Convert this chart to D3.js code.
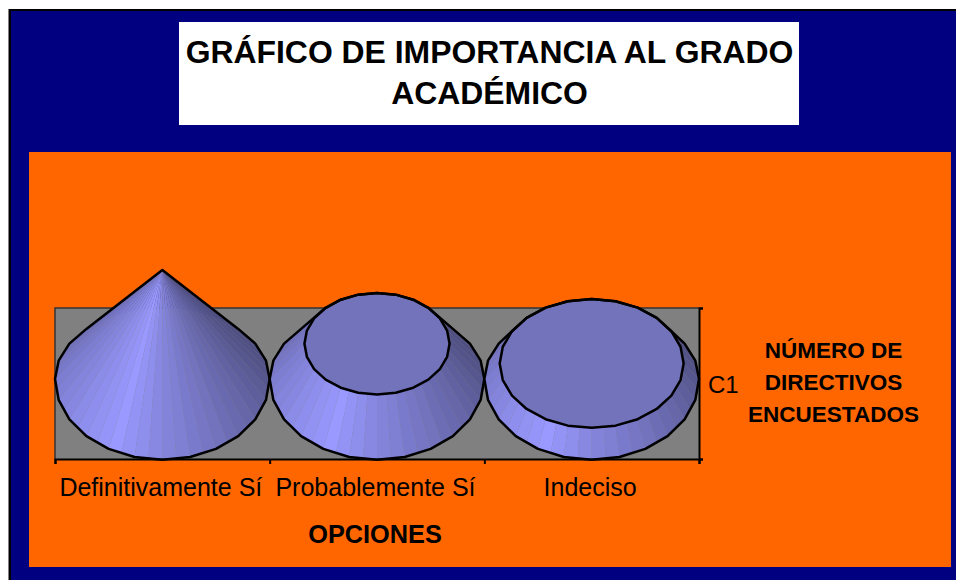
<!DOCTYPE html>
<html>
<head>
<meta charset="utf-8">
<script src="https://cdn.jsdelivr.net/npm/d3@7/dist/d3.min.js"></script>
<style>
html,body{margin:0;padding:0;background:#fff;overflow:hidden}
svg{display:block}
text{font-family:"Liberation Sans",Arial,sans-serif;fill:#000}
</style>
</head>
<body>
<svg id="c" width="956" height="580"></svg>
<script>
const categories = ["Definitivamente Sí", "Probablemente Sí", "Indeciso"];
const values = [21, 6.8, 3];
const yMax = 21;
const seriesName = "C1";
const titleLines = ["GRÁFICO DE IMPORTANCIA AL GRADO", "ACADÉMICO"];
const xTitle = "OPCIONES";
const yTitleLines = ["NÚMERO DE", "DIRECTIVOS", "ENCUESTADOS"];

const svg = d3.select("#c");
const plot = {l: 55, r: 699, t: 308, b: 459};

// Frame
svg.append("rect").attr("x", 8).attr("y", 9).attr("width", 960).attr("height", 580).attr("fill", "#808080");
svg.append("rect").attr("x", 9).attr("y", 9).attr("width", 960).attr("height", 580).attr("fill", "#000");
svg.append("rect").attr("x", 11).attr("y", 11).attr("width", 960).attr("height", 580).attr("fill", "#000080");
svg.append("rect").attr("x", 179).attr("y", 22).attr("width", 620).attr("height", 103).attr("fill", "#fff");
svg.append("rect").attr("x", 29).attr("y", 152).attr("width", 922).attr("height", 415).attr("fill", "#ff6600");

// Title
svg.append("g").selectAll("text").data(titleLines).join("text")
  .attr("x", 489.5).attr("y", (d, i) => 63 + i * 41)
  .attr("text-anchor", "middle").attr("font-size", 31.9).attr("font-weight", "bold").text(d => d);

// Scales
const x = d3.scaleBand().domain(categories).range([plot.l, plot.r]);
const baseY = 379;
const h = d3.scaleLinear().domain([0, yMax]).range([baseY, 270]);   // height of axis of cone
const radius = d3.scaleLinear().domain([0, yMax]).range([1, 0]);    // radius factor along cone

// Wall
svg.append("rect").attr("x", plot.l).attr("y", plot.t)
  .attr("width", plot.r - plot.l).attr("height", plot.b - plot.t).attr("fill", "#808080");
svg.append("path").attr("d", d3.line()([[plot.l, plot.b], [plot.l, plot.t], [plot.r, plot.t]]))
  .attr("fill", "none").attr("stroke", "#333").attr("stroke-width", 1.5);

// Shading by facet angle
const shade = d3.scaleLinear()
  .domain([-90, -30, 0, 45, 90, 116, 180, 215, 270])
  .range(["#4a4a78", "#4c4c7e", "#55558c", "#6b6bb2", "#8585de", "#9999ff", "#7b7bce", "#6a6ab0", "#4a4a78"]);

const N = 48;
const angles = d3.range(N + 1).map(i => -90 + i * 360 / N);
// Perspective: the near half of the base ellipse is deeper than the far half
const pt = (cx, cy, r, deg, far, near) => {
  const s = Math.sin(deg * Math.PI / 180);
  return [cx + r * Math.cos(deg * Math.PI / 180), cy + r * (s < 0 ? far : near) * s];
};
const basePt = (cx, R, a) => pt(cx, baseY, R, a, 0.66, 0.752);
const capPt = (cx, y, r, a) => pt(cx, y, r, a, 0.70, 0.70);
const line = d3.line();

categories.forEach((cat, idx) => {
  const v = values[idx];
  const cx = x(cat) + x.bandwidth() / 2;
  const R = x.bandwidth() / 2;
  const rTop = R * radius(v);
  const yTop = h(v);
  const g = svg.append("g");

  const facets = d3.pairs(angles)
    .sort((a, b) => Math.sin((a[0] + 3.75) * Math.PI / 180) - Math.sin((b[0] + 3.75) * Math.PI / 180));
  g.selectAll("path.f").data(facets).join("path").attr("class", "f")
    .attr("d", ([a, b]) => line([basePt(cx, R, a), basePt(cx, R, b), capPt(cx, yTop, rTop, b), capPt(cx, yTop, rTop, a)]) + "Z")
    .attr("fill", ([a]) => shade(a + 3.75));

  const coarse = angles.filter((d, i) => i % 2 === 0);
  const outer = d3.polygonHull(coarse.flatMap(a => [basePt(cx, R, a), capPt(cx, yTop, rTop, a)]));
  if (rTop > 0) {
    g.append("path").attr("d", line(coarse.map(a => capPt(cx, yTop, rTop, a))) + "Z")
      .attr("fill", "#7373bb").attr("stroke", "#000").attr("stroke-width", 2.5).attr("stroke-linejoin", "round");
  }
  g.append("path").attr("d", line(outer) + "Z")
    .attr("fill", "none").attr("stroke", "#000").attr("stroke-width", 2.5).attr("stroke-linejoin", "round");
});

// Axes
const edges = d3.scaleLinear().domain([0, categories.length]).range([plot.l, plot.r]);
svg.append("g").attr("transform", `translate(0,${plot.b})`)
  .call(d3.axisBottom(edges).ticks(categories.length).tickFormat("").tickSize(5).tickSizeOuter(5))
  .call(g => g.selectAll("path,line").attr("stroke", "#000").attr("stroke-width", 2));
const depthAxis = d3.scaleLinear().domain([0, 1]).range([plot.b, plot.t]);
svg.append("g").attr("transform", `translate(${plot.r},0)`)
  .call(d3.axisRight(depthAxis).ticks(1).tickFormat("").tickSize(4).tickSizeOuter(4))
  .call(g => g.selectAll("path,line").attr("stroke", "#000").attr("stroke-width", 2));
svg.append("g").selectAll("text").data(categories).join("text")
  .attr("x", d => x(d) + x.bandwidth() / 2 - 1.5).attr("y", 496)
  .attr("text-anchor", "middle").attr("font-size", 25).text(d => d);

svg.append("text").attr("x", 708).attr("y", 393).attr("font-size", 24).text(seriesName);
svg.append("text").attr("x", 375).attr("y", 543).attr("text-anchor", "middle")
  .attr("font-size", 25.3).attr("font-weight", "bold").text(xTitle);
svg.append("g").selectAll("text").data(yTitleLines).join("text")
  .attr("x", 833.5).attr("y", (d, i) => 358 + i * 32)
  .attr("text-anchor", "middle").attr("font-size", 22.5).attr("font-weight", "bold").text(d => d);
</script>
</body>
</html>
